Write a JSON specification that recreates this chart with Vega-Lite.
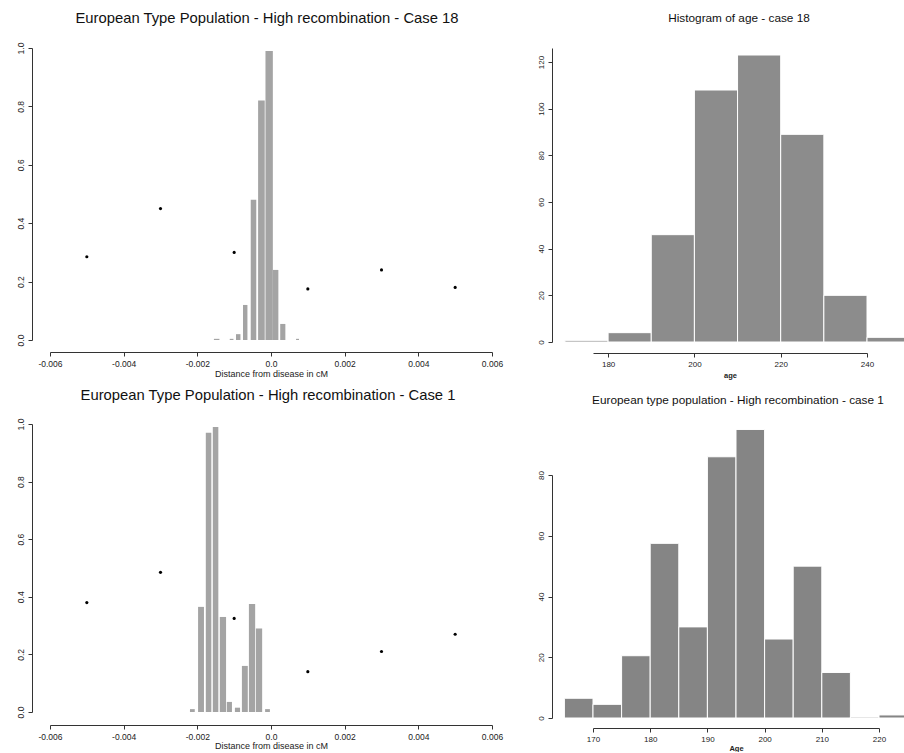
{
  "$schema": "https://vega.github.io/schema/vega-lite/v6.json",
  "padding": {"left": 15, "top": 11, "right": 0, "bottom": 0},
  "background": "white",
  "config": {
    "view": {"stroke": null},
    "font": "Liberation Sans",
    "axis": {"grid": false, "domainColor": "#333", "tickColor": "#333", "labelColor": "#222", "titleColor": "#222", "labelFont": "Liberation Sans", "titleFont": "Liberation Sans", "titleFontWeight": "normal", "tickSize": 4, "labelFontSize": 8.5, "titleFontSize": 9, "labelPadding": 3, "labelFlush": false, "labelOverlap": false},
    "title": {"fontWeight": "normal", "color": "#111", "anchor": "middle", "font": "Liberation Sans"}
  },
  "datasets": {
    "tl_bars": [
      {"x0": -0.00155, "x1": -0.0014, "h": 0.004},
      {"x0": -0.00112, "x1": -0.00102, "h": 0.004},
      {"x0": -0.00095, "x1": -0.00083, "h": 0.02},
      {"x0": -0.00076, "x1": -0.00064, "h": 0.12},
      {"x0": -0.00055, "x1": -0.0004, "h": 0.48},
      {"x0": -0.00035, "x1": -0.00017, "h": 0.82},
      {"x0": -0.00015, "x1": 0.00005, "h": 0.99},
      {"x0": 0.00005, "x1": 0.0002, "h": 0.24},
      {"x0": 0.00025, "x1": 0.00039, "h": 0.055},
      {"x0": 0.00068, "x1": 0.00076, "h": 0.004}
    ],
    "tl_pts": [
      {"x": -0.005, "p": 0.285}, {"x": -0.003, "p": 0.45}, {"x": -0.001, "p": 0.3},
      {"x": 0.001, "p": 0.175}, {"x": 0.003, "p": 0.24}, {"x": 0.005, "p": 0.18}
    ],
    "bl_bars": [
      {"x0": -0.0022, "x1": -0.00207, "h": 0.01},
      {"x0": -0.00198, "x1": -0.00182, "h": 0.365},
      {"x0": -0.00177, "x1": -0.00162, "h": 0.97},
      {"x0": -0.00158, "x1": -0.00143, "h": 0.99},
      {"x0": -0.00139, "x1": -0.00122, "h": 0.33},
      {"x0": -0.0012, "x1": -0.00106, "h": 0.035},
      {"x0": -0.00098, "x1": -0.00084, "h": 0.015},
      {"x0": -0.00079, "x1": -0.00063, "h": 0.16},
      {"x0": -0.0006, "x1": -0.00043, "h": 0.375},
      {"x0": -0.00041, "x1": -0.00024, "h": 0.29},
      {"x0": -0.00016, "x1": -0.00003, "h": 0.01}
    ],
    "bl_pts": [
      {"x": -0.005, "p": 0.38}, {"x": -0.003, "p": 0.485}, {"x": -0.001, "p": 0.325},
      {"x": 0.001, "p": 0.14}, {"x": 0.003, "p": 0.21}, {"x": 0.005, "p": 0.27}
    ],
    "tr_bars": [
      {"a0": 170, "a1": 180, "n": 0.7}, {"a0": 180, "a1": 190, "n": 4}, {"a0": 190, "a1": 200, "n": 46},
      {"a0": 200, "a1": 210, "n": 108}, {"a0": 210, "a1": 220, "n": 123}, {"a0": 220, "a1": 230, "n": 89},
      {"a0": 230, "a1": 240, "n": 20}, {"a0": 240, "a1": 250, "n": 2}
    ],
    "br_bars": [
      {"a0": 165, "a1": 170, "n": 6.5}, {"a0": 170, "a1": 175, "n": 4.5}, {"a0": 175, "a1": 180, "n": 20.5},
      {"a0": 180, "a1": 185, "n": 57.5}, {"a0": 185, "a1": 190, "n": 30}, {"a0": 190, "a1": 195, "n": 86},
      {"a0": 195, "a1": 200, "n": 95}, {"a0": 200, "a1": 205, "n": 26}, {"a0": 205, "a1": 210, "n": 50},
      {"a0": 210, "a1": 215, "n": 15}, {"a0": 215, "a1": 220, "n": 0.3}, {"a0": 220, "a1": 225, "n": 1}
    ]
  },
  "spacing": 33,
  "hconcat": [
    {
      "spacing": 9,
      "vconcat": [
        {
          "width": 442, "height": 292,
          "title": {"text": "European Type Population - High recombination -  Case 18", "fontSize": 14.8, "offset": 16, "dx": -4},
          "layer": [
            {
              "data": {"name": "tl_bars"},
              "mark": {"type": "rect", "color": "#a4a4a4"},
              "encoding": {
                "x": {"field": "x0", "type": "quantitative", "scale": {"domain": [-0.006, 0.006], "nice": false, "zero": false},
                      "axis": {"values": [-0.006, -0.004, -0.002, 0, 0.002, 0.004, 0.006], "offset": 12, "title": "Distance from disease in cM", "titlePadding": 2,
                               "labelExpr": "datum.value == 0 ? '0.0' : (datum.value < 0 ? '-' : '') + format(abs(datum.value), '.3f')"}},
                "x2": {"field": "x1"},
                "y": {"field": "h", "type": "quantitative", "scale": {"domain": [0, 1], "nice": false},
                      "axis": {"values": [0, 0.2, 0.4, 0.6, 0.8, 1], "offset": 18, "title": null, "labelAngle": -90, "labelAlign": "center", "labelBaseline": "bottom",
                               "labelExpr": "format(datum.value, '.1f')"}},
                "y2": {"datum": 0}
              }
            },
            {
              "data": {"name": "tl_pts"},
              "mark": {"type": "point", "filled": true, "size": 10, "color": "#000", "opacity": 1},
              "encoding": {
                "x": {"field": "x", "type": "quantitative"},
                "y": {"field": "p", "type": "quantitative"}
              }
            }
          ]
        },
        {
          "width": 442, "height": 288,
          "title": {"text": "European Type Population - High recombination -  Case 1", "fontSize": 14.8, "offset": 15, "dx": -3},
          "layer": [
            {
              "data": {"name": "bl_bars"},
              "mark": {"type": "rect", "color": "#a4a4a4"},
              "encoding": {
                "x": {"field": "x0", "type": "quantitative", "scale": {"domain": [-0.006, 0.006], "nice": false, "zero": false},
                      "axis": {"values": [-0.006, -0.004, -0.002, 0, 0.002, 0.004, 0.006], "offset": 13, "title": "Distance from disease in cM", "titlePadding": 1,
                               "labelExpr": "datum.value == 0 ? '0.0' : (datum.value < 0 ? '-' : '') + format(abs(datum.value), '.3f')"}},
                "x2": {"field": "x1"},
                "y": {"field": "h", "type": "quantitative", "scale": {"domain": [0, 1], "nice": false},
                      "axis": {"values": [0, 0.2, 0.4, 0.6, 0.8, 1], "offset": 18, "title": null, "labelAngle": -90, "labelAlign": "center", "labelBaseline": "bottom",
                               "labelExpr": "format(datum.value, '.1f')"}},
                "y2": {"datum": 0}
              }
            },
            {
              "data": {"name": "bl_pts"},
              "mark": {"type": "point", "filled": true, "size": 10, "color": "#000", "opacity": 1},
              "encoding": {
                "x": {"field": "x", "type": "quantitative"},
                "y": {"field": "p", "type": "quantitative"}
              }
            }
          ]
        }
      ]
    },
    {
      "spacing": 16,
      "vconcat": [
        {
          "width": 274, "height": 294,
          "title": {"text": "Histogram of age - case 18", "fontSize": 11.8, "offset": 23, "dx": 9},
          "layer": [
            {
              "data": {"name": "tr_bars"},
              "mark": {"type": "rect", "color": "#8c8c8c", "stroke": "white", "strokeWidth": 1},
              "encoding": {
                "x": {"field": "a0", "type": "quantitative", "scale": {"domain": [176.5, 240], "nice": false, "zero": false},
                      "axis": {"values": [180, 200, 220, 240], "offset": 11, "title": "age", "titleFontSize": 7.5, "titleFontWeight": "bold", "titlePadding": 3, "labelFontSize": 8}},
                "x2": {"field": "a1"},
                "y": {"field": "n", "type": "quantitative", "scale": {"domain": [0, 126], "nice": false},
                      "axis": {"values": [0, 20, 40, 60, 80, 100, 120], "offset": 41, "title": null, "labelAngle": -90, "labelAlign": "center", "labelBaseline": "bottom", "labelFontSize": 8}},
                "y2": {"datum": 0}
              }
            }
          ]
        },
        {
          "width": 286, "height": 243,
          "title": {"text": "European type population - High recombination - case 1", "fontSize": 11.8, "offset": 22, "dx": 2},
          "layer": [
            {
              "data": {"name": "br_bars"},
              "mark": {"type": "rect", "color": "#858585", "stroke": "white", "strokeWidth": 1},
              "encoding": {
                "x": {"field": "a0", "type": "quantitative", "scale": {"domain": [170, 220], "nice": false, "zero": false},
                      "axis": {"values": [170, 180, 190, 200, 210, 220], "offset": 10, "title": "Age", "titleFontSize": 7.5, "titleFontWeight": "bold", "titlePadding": 1, "labelFontSize": 8}},
                "x2": {"field": "a1"},
                "y": {"field": "n", "type": "quantitative", "scale": {"domain": [0, 80], "nice": false},
                      "axis": {"values": [0, 20, 40, 60, 80], "offset": 41, "title": null, "labelAngle": -90, "labelAlign": "center", "labelBaseline": "bottom", "labelFontSize": 8}},
                "y2": {"datum": 0}
              }
            }
          ]
        }
      ]
    }
  ]
}
